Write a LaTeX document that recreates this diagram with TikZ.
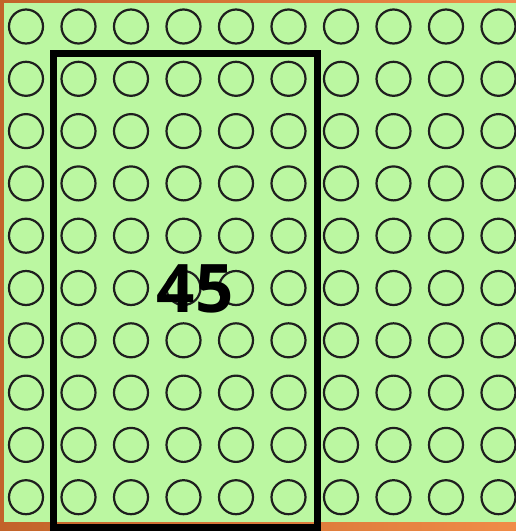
\documentclass[tikz,border=0pt]{standalone}
\usepackage{fontspec}
\setmainfont{Open Sans}
\definecolor{orangeL}{HTML}{C2632A}
\definecolor{orangeR}{HTML}{F08C48}
\definecolor{greenbg}{HTML}{BBF7A1}
\definecolor{ringcol}{HTML}{1E1E1E}
\tikzset{
  ring/.style={circle, draw=ringcol, line width=2.2pt, minimum size=34pt, inner sep=0pt},
  framebox/.style={draw=black, line width=7pt},
  biglabel/.style={font=\fontsize{67}{67}\selectfont\bfseries, inner sep=0pt, text=black}
}
\begin{document}
\begin{tikzpicture}[x=1pt,y=-1pt]
\useasboundingbox (0,0) rectangle (516,531);
\shade[left color=orangeL, right color=orangeR] (0,0) rectangle (516,531);
\fill[greenbg] (4,3) rectangle (516,522);
\foreach \i in {0,...,9}{
  \foreach \j in {0,...,9}{
    \node[ring] (c-\i-\j) at ({26+52.5*\i},{26.5+52.3*\j}) {};
  }
}
\draw[framebox] (53.5,53.5) rectangle (317,527.5);
\node[biglabel] (lbl) at (195,288.5) {45};
\end{tikzpicture}
\end{document}
